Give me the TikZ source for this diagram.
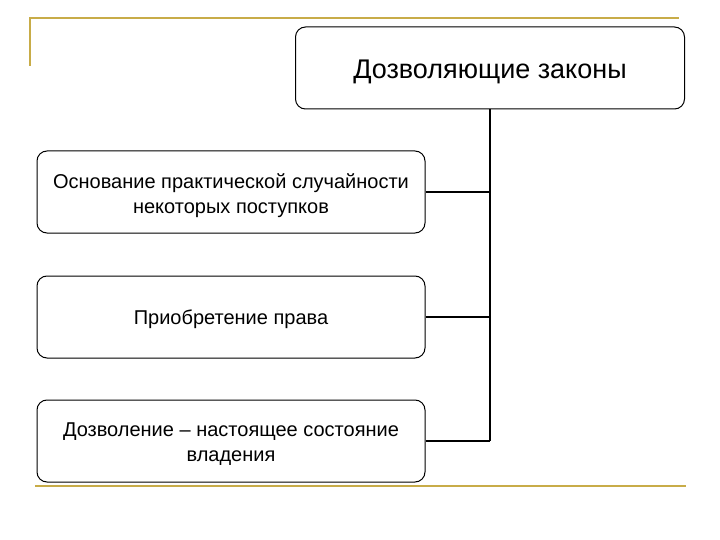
\documentclass[tikz,border=0pt]{standalone}
\usepackage{fontspec}
\setmainfont{Liberation Sans}
\definecolor{goldline}{RGB}{200,172,72}
\newcommand{\dropby}[2]{\raisebox{-#1}[\height][\depth]{#2}}
\begin{document}
\begin{tikzpicture}[x=1pt,y=-1pt,
  box/.style={draw=black,line width=1pt,rounded corners=10pt,fill=white,inner sep=0pt,align=center},
  conn/.style={draw=black,line width=2pt},
  gold/.style={draw=goldline,line width=2.6pt}]
\useasboundingbox (0,0) rectangle (720,540);
% gold decorations
\coordinate (g1) at (30,66);
\coordinate (g2) at (30,18);
\coordinate (g3) at (679,18);
\coordinate (g4) at (35,486);
\coordinate (g5) at (686,486);
\draw[gold] (g1) -- (g2) -- (g3);
\draw[gold] (g4) -- (g5);
% boxes
\node[box,minimum width=389pt,minimum height=82pt,font=\fontsize{27}{32}\selectfont] (top) at (490,68) {\dropby{4pt}{Дозволяющие законы}};
\node[box,minimum width=388pt,minimum height=82pt,font=\fontsize{20}{24}\selectfont] (b1) at (231,192) {\dropby{4pt}{\begin{tabular}{@{}c@{}}Основание практической случайности\\[1pt]некоторых поступков\end{tabular}}};
\node[box,minimum width=388pt,minimum height=82pt,font=\fontsize{20}{24}\selectfont] (b2) at (231,317) {\dropby{2pt}{Приобретение права}};
\node[box,minimum width=388pt,minimum height=82pt,font=\fontsize{20}{24}\selectfont] (b3) at (231,441) {\dropby{3pt}{\begin{tabular}{@{}c@{}}Дозволение – настоящее состояние\\[1pt]владения\end{tabular}}};
% connectors
\coordinate (j3) at (490,441);
\draw[conn] (top.south) -- (j3);
\draw[conn] (b1.east) -- (b1.east -| top.south);
\draw[conn] (b2.east) -- (b2.east -| top.south);
\draw[conn] (b3.east) -- (j3);
\end{tikzpicture}
\end{document}
